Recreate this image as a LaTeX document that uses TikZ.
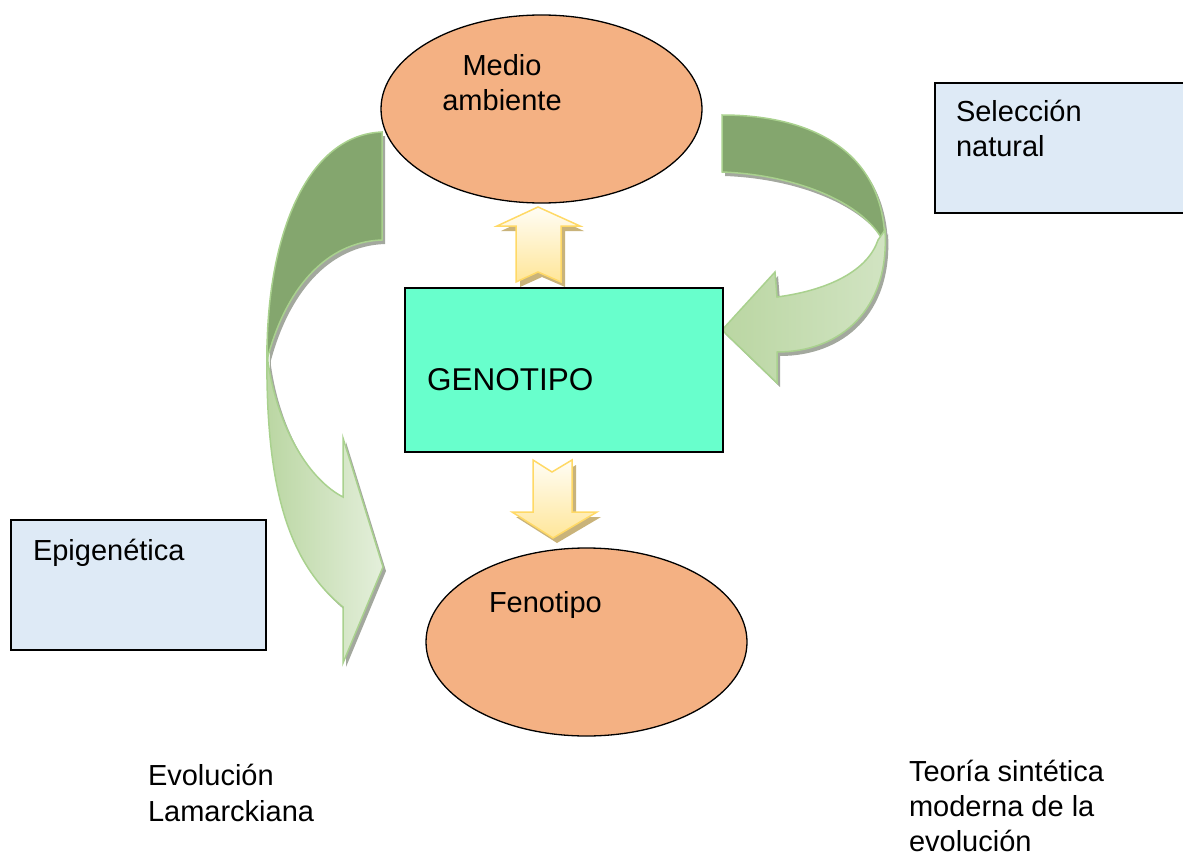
\documentclass[tikz,border=0pt]{standalone}
\usepackage{fontspec}
\setmainfont{Liberation Sans}
\usetikzlibrary{shapes.geometric}
\definecolor{cF4B183}{RGB}{244,177,131}
\definecolor{c68FFCC}{RGB}{104,255,204}
\definecolor{cDEEAF6}{RGB}{222,234,246}
\definecolor{c84A66E}{RGB}{132,166,110}
\definecolor{cA9D18E}{RGB}{169,209,142}
\definecolor{cBAD6A2}{RGB}{186,214,162}
\definecolor{cE4EFDB}{RGB}{228,239,219}
\definecolor{cD2E4C3}{RGB}{210,228,195}
\definecolor{cFFD966}{RGB}{255,217,102}
\definecolor{cFFE699}{RGB}{255,230,153}
\definecolor{cFFFDF5}{RGB}{255,253,245}
\definecolor{cA3A89E}{RGB}{163,168,158}
\definecolor{cC9B37A}{RGB}{201,179,122}

\begin{document}
\begin{tikzpicture}[y=1pt,x=1pt,yscale=-1, inner sep=0pt, outer sep=0pt,
    lbl/.style={anchor=base west, align=left, font=\fontsize{29}{35.5}\selectfont},
    oval/.style={ellipse, draw=black, fill=cF4B183, line width=1.3pt,
      minimum width=321pt, minimum height=188pt},
    note/.style={rectangle, draw=black, fill=cDEEAF6, line width=1.3pt,
      minimum width=255pt, minimum height=130pt},
    ribbon/.style={fill=c84A66E, draw=cA9D18E, line width=1.5pt},
    ribbonshadow/.style={fill=cA3A89E},
    blockarrow/.style={draw=cFFD966, line width=1.5pt},
    blockshadow/.style={fill=cC9B37A}]
  \useasboundingbox (0,0) rectangle (1183,856);

  % left ribbon (Lamarck)
  \begin{scope}[shift={(3,4)}]
    \path[ribbonshadow] (382,132) .. controls (305,135) and (266,240) .. (267,360)
      .. controls (285,290) and (325,242) .. (382,240) -- cycle;
    \path[ribbonshadow] (267,345) .. controls (265,480) and (285,560) .. (343,607) --
      (343,663) -- (383,567) -- (343,438) -- (343,497)
      .. controls (310,480) and (278,430) .. (268,362) -- cycle;
  \end{scope}
  \path[ribbon] (382,132) .. controls (305,135) and (266,240) .. (267,360)
    .. controls (285,290) and (325,242) .. (382,240) -- cycle;
  \path[draw=cA9D18E, line width=1.5pt, left color=cBAD6A2, right color=cE4EFDB]
    (267,345) .. controls (265,480) and (285,560) .. (343,607) --
    (343,663) -- (383,567) -- (343,438) -- (343,497)
    .. controls (310,480) and (278,430) .. (268,362) -- cycle;

  % right ribbon (seleccion natural)
  \begin{scope}[shift={(3,4)}]
    \path[ribbonshadow] (722,115) .. controls (810,115) and (885,150) .. (885,245)
      .. controls (868,205) and (800,175) .. (722,172) -- cycle;
    \path[ribbonshadow] (885,230) .. controls (890,310) and (840,352) .. (777,352) --
      (777,383) -- (722,330) -- (775,272) -- (777,297)
      .. controls (830,290) and (868,270) .. (878,240) -- cycle;
  \end{scope}
  \path[ribbon] (722,115) .. controls (810,115) and (885,150) .. (885,245)
    .. controls (868,205) and (800,175) .. (722,172) -- cycle;
  \path[draw=cA9D18E, line width=1.5pt, left color=cBAD6A2, middle color=cE4EFDB,
      right color=cD2E4C3]
    (885,230) .. controls (890,310) and (840,352) .. (777,352) --
    (777,383) -- (722,330) -- (775,272) -- (777,297)
    .. controls (830,290) and (868,270) .. (878,240) -- cycle;

  % yellow block arrows
  \path[blockshadow] (542,212) -- (584,231) -- (565,231) -- (565,287) -- (542,277) --
    (520,287) -- (520,231) -- (501,231) -- cycle;
  \path[blockarrow, top color=cFFFDF5, bottom color=cFFE699] (538,207) -- (580,226) --
    (561,226) -- (561,282) -- (538,272) -- (516,282) -- (516,226) -- (497,226) -- cycle;
  \path[blockshadow] (537,465) -- (556,477) -- (576,465) -- (576,517) -- (601,517) --
    (557,543) -- (516,517) -- (537,517) -- cycle;
  \path[blockarrow, top color=cFFFDF5, bottom color=cFFE699] (533,460) -- (552,472) --
    (572,460) -- (572,512) -- (597,512) -- (553,538) -- (512,512) -- (533,512) -- cycle;

  % shapes
  \node[oval] (medio) at (541.5,109) {};
  \node[oval] (feno) at (586.5,642) {};
  \node[rectangle, draw=black, fill=c68FFCC, line width=1.3pt,
    minimum width=318pt, minimum height=164pt] (geno) at (564,370) {};
  \node[note] (seleccion) at (1062.5,148) {};
  \node[note] (epigen) at (138.5,585) {};

  % texts (base = last line)
  \node[lbl, anchor=base, align=center] (medio-txt) at (502,111) {Medio\\ambiente};
  \node[lbl, font=\fontsize{31.5}{35.5}\selectfont] (geno-txt) at (427,390) {GENOTIPO};
  \node[lbl] (feno-txt) at (489,612) {Fenotipo};
  \node[lbl] (seleccion-txt) at (956,157) {Selección\\natural};
  \node[lbl] (epigen-txt) at (33,560) {Epigenética};
  \node[lbl] (lamarck-txt) at (148,821) {Evolución\\Lamarckiana};
  \node[lbl, font=\fontsize{29}{35}\selectfont] (sintetica-txt) at (909,851)
    {Teoría sintética\\moderna de la\\evolución};
\end{tikzpicture}
\end{document}
